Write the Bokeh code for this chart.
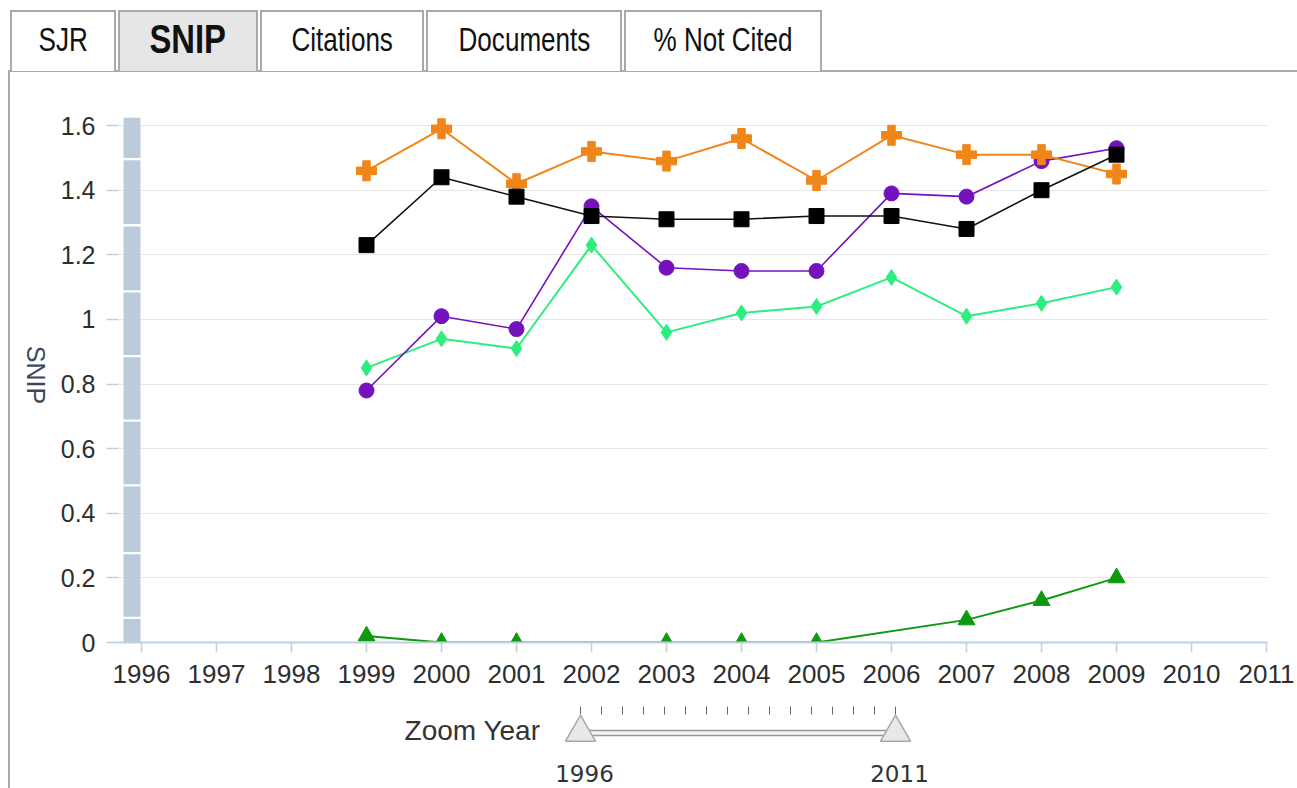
import numpy as np
from bokeh.plotting import figure
from bokeh.models import Range1d, FixedTicker, Div, Spacer
from bokeh.layouts import column, row
from bokeh.embed import file_html
from bokeh.resources import INLINE
from bokeh.core.properties import value

# ---------------- data ----------------
years = [1999, 2000, 2001, 2002, 2003, 2004, 2005, 2006, 2007, 2008, 2009]
snip_orange = [1.46, 1.59, 1.42, 1.52, 1.49, 1.56, 1.43, 1.57, 1.51, 1.51, 1.45]
snip_black = [1.23, 1.44, 1.38, 1.32, 1.31, 1.31, 1.32, 1.32, 1.28, 1.40, 1.51]
snip_purple = [0.78, 1.01, 0.97, 1.35, 1.16, 1.15, 1.15, 1.39, 1.38, 1.49, 1.53]
snip_mint = [0.85, 0.94, 0.91, 1.23, 0.96, 1.02, 1.04, 1.13, 1.01, 1.05, 1.10]
green_years = [1999, 2000, 2001, 2003, 2004, 2005, 2007, 2008, 2009]
snip_green = [0.02, 0.0, 0.0, 0.0, 0.0, 0.0, 0.07, 0.13, 0.20]

x_tick_years = list(range(1996, 2012))
y_ticks = [0, 0.2, 0.4, 0.6, 0.8, 1.0, 1.2, 1.4, 1.6]
y_tick_labels = ["0", "0.2", "0.4", "0.6", "0.8", "1", "1.2", "1.4", "1.6"]
tab_names = ["SJR", "SNIP", "Citations", "Documents", "% Not Cited"]
selected_tab = "SNIP"
axis_title = "SNIP"
zoom_label = "Zoom Year"
zoom_start, zoom_end = 1996, 2011

FONT = "Liberation Sans"
LABEL_COLOR = "#2e2e2e"
AXIS_COLOR = "#c0d0e0"

# ---------------- tabs (HTML) ----------------
tab_lefts = [10, 118, 260, 426, 624]
tab_widths = [106, 140, 164, 196, 198]
parts = ['<div style="position:relative;width:1297px;height:72px;">',
         '<div style="position:absolute;left:8px;top:70px;width:1289px;height:2px;background:#a9a9a9"></div>']
for name, l, w in zip(tab_names, tab_lefts, tab_widths):
    sel = name == selected_tab
    bg = "#e6e6e6" if sel else "#ffffff"
    fs = "40px" if sel else "33px"
    fw = "bold" if sel else "normal"
    sx = "0.82" if sel else "0.79"
    parts.append(
        f'<div style="position:absolute;left:{l}px;top:10px;width:{w}px;height:61px;box-sizing:border-box;'
        f'border:2px solid #a9a9a9;border-bottom:none;background:{bg};display:flex;align-items:center;'
        f'justify-content:center;padding-bottom:3px;font-family:\'{FONT}\',Arial,sans-serif;font-size:{fs};'
        f'font-weight:{fw};color:#111;">'
        f'<span style="display:inline-block;transform:scaleX({sx});white-space:nowrap">{name}</span></div>')
parts.append('</div>')
tabs_div = Div(text="".join(parts), width=1297, height=72, margin=0)

border_div = Div(text='<div style="width:2px;height:716px;background:#a9a9a9"></div>',
                 width=2, height=716, margin=0)

# y-axis title column (reads top to bottom)
title_div = Div(text=(
    '<div style="position:relative;width:40px;height:716px;">'
    '<div style="position:absolute;left:25px;top:303px;transform:translate(-50%,-50%) rotate(90deg);'
    f'font-family:\'{FONT}\',Arial,sans-serif;font-size:25px;color:#3b4a58;white-space:nowrap;line-height:1">'
    f'{axis_title}</div></div>'), width=40, height=716, margin=0)

# ---------------- main chart ----------------
p = figure(width=1247, height=628,
           x_range=Range1d(1996 - 23 / 75, 2011 + 1 / 75),
           y_range=Range1d(0, 1.625),
           min_border_left=68, min_border_right=30, min_border_top=45, min_border_bottom=58,
           output_backend="svg", toolbar_location=None, margin=0)
p.outline_line_color = None
p.background_fill_color = "white"
p.border_fill_color = "white"

p.xgrid.grid_line_color = None
p.ygrid.ticker = FixedTicker(ticks=y_ticks)
p.ygrid.grid_line_color = "#e6e6e6"
p.ygrid.grid_line_width = 1

ya = p.yaxis[0]
ya.ticker = FixedTicker(ticks=y_ticks)
ya.major_label_overrides = {t: s for t, s in zip(y_ticks, y_tick_labels)}
ya.axis_line_color = None
ya.major_tick_line_color = AXIS_COLOR
ya.major_tick_line_width = 1.5
ya.major_tick_out = 12
ya.major_tick_in = 0
ya.minor_tick_line_color = None
ya.major_label_text_font = FONT
ya.major_label_text_font_size = "25px"
ya.major_label_text_color = LABEL_COLOR
ya.major_label_standoff = 11

xa = p.xaxis[0]
xa.ticker = FixedTicker(ticks=x_tick_years)
xa.axis_line_color = AXIS_COLOR
xa.axis_line_width = 2
xa.major_tick_line_color = AXIS_COLOR
xa.major_tick_line_width = 1.5
xa.major_tick_out = 10
xa.major_tick_in = 0
xa.minor_tick_line_color = None
xa.major_label_text_font = FONT
xa.major_label_text_font_size = "26px"
xa.major_label_text_color = LABEL_COLOR
xa.major_label_standoff = 12

# grey scroll bar at the left of the plot
bar_edges = [0, 0.08, 0.28, 0.49, 0.69, 0.89, 1.09, 1.295, 1.5, 1.625]
gap = 0.007
p.quad(left=1996 - 18 / 75, right=1996 - 1 / 75,
       bottom=bar_edges[:-1],
       top=[e - gap for e in bar_edges[1:-1]] + [bar_edges[-1]],
       fill_color="#bccbdb", line_color=None)

# series
p.line(green_years, snip_green, line_color="#0e9a0e", line_width=2)
p.scatter(green_years, snip_green, marker="triangle", size=17, fill_color="#0e9a0e", line_color="#0e9a0e")

p.line(years, snip_mint, line_color="#2cee7f", line_width=2)
p.scatter(years, snip_mint, marker="diamond", size=16, fill_color="#2cee7f", line_color="#2cee7f")

p.line(years, snip_purple, line_color="#7412be", line_width=1.6)
p.scatter(years, snip_purple, marker="circle", size=15, fill_color="#7412be", line_color="#7412be")

p.line(years, snip_orange, line_color="#f0861a", line_width=2)
p.scatter(years, snip_orange, marker="plus", size=20, fill_color="#f0861a", line_color="#f0861a")

p.line(years, snip_black, line_color="#111111", line_width=1.6)
p.scatter(years, snip_black, marker="square", size=15, fill_color="#000000", line_color="#000000")

# ---------------- zoom slider (frame aligned with main frame) ----------------
px_per_year = 21
frame_left_px, frame_right_px = 118, 1267
handle_left_px, handle_right_px = 580, 895
s = figure(width=1247, height=88,
           x_range=Range1d(zoom_start - (handle_left_px - frame_left_px) / px_per_year,
                           zoom_end + (frame_right_px - handle_right_px) / px_per_year),
           y_range=Range1d(0, 88),
           x_axis_type=None, y_axis_type=None,
           min_border_left=68, min_border_right=30, min_border_top=0, min_border_bottom=0,
           output_backend="svg", toolbar_location=None, margin=0)
s.outline_line_color = None
s.grid.grid_line_color = None
s.background_fill_color = "white"
s.border_fill_color = "white"

s.segment(x0=x_tick_years, y0=[74] * len(x_tick_years), x1=x_tick_years, y1=[82] * len(x_tick_years),
          line_color="#666666", line_width=1)
s.quad(left=[zoom_start], right=[zoom_end], bottom=[53], top=[58],
       fill_color="#f6f6f6", line_color="#999999", line_width=1.5)
s.scatter([zoom_start, zoom_end], [56, 56], marker="triangle", size=30,
          fill_color="#e8e8e8", line_color="#a8a8a8", line_width=1.5)
s.text(x=[zoom_start, zoom_end], y=[15, 15], text=[str(zoom_start), str(zoom_end)],
       x_offset=4, text_align="center", text_baseline="middle",
       text_font=value("DejaVu Sans"), text_font_size="23px", text_color="#333333")
s.text(x=[zoom_start], y=[58], text=[zoom_label], x_offset=-40,
       text_align="right", text_baseline="middle",
       text_font=value(FONT), text_font_size="28px", text_color="#333333")

layout = column(tabs_div,
                row(Spacer(width=8, height=716, margin=0), border_div, title_div,
                    column(p, s, spacing=0), spacing=0),
                spacing=0)

open("out.html", "w").write(file_html(layout, INLINE))
